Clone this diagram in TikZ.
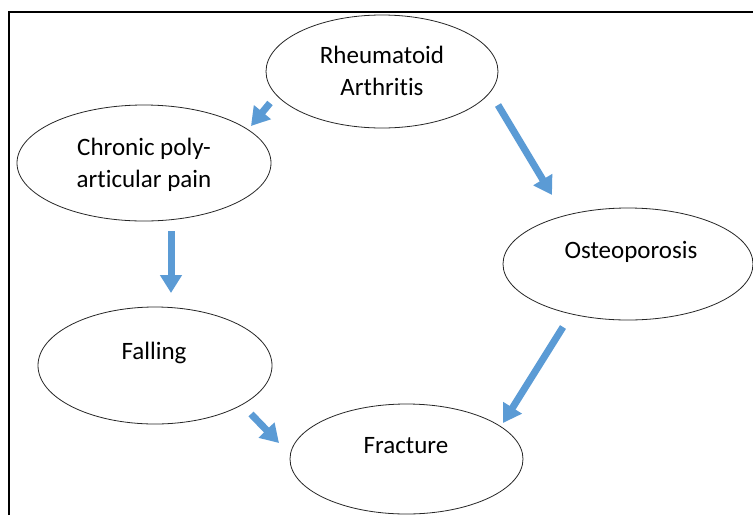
\documentclass[tikz,border=0pt]{standalone}
\usepackage{fontspec}
\setmainfont[Ligatures=NoCommon]{Carlito}
\usetikzlibrary{shapes.geometric,arrows.meta}
\definecolor{arrblue}{HTML}{5B9BD5}
\begin{document}
\begin{tikzpicture}[x=1pt,y=-1pt,
  oval/.style={draw=black!85,line width=0.8pt,ellipse,inner sep=0pt},
  lbl/.style={font=\fontsize{25}{32}\selectfont,align=center,anchor=base,inner sep=0pt},
  arr/.style={draw=arrblue,line width=7pt,-{Triangle[length=18pt,width=21pt]}}]
\useasboundingbox (0,0) rectangle (753,515);
\fill[white] (0,0) rectangle (753,515);
\draw[line width=2pt] (9,515) -- (9,12) -- (753,12);
% ellipses
\node[oval,minimum width=232pt,minimum height=113pt] (ra) at (382,71.5) {};
\node[oval,minimum width=254pt,minimum height=116pt] (cp) at (144,163) {};
\node[oval,minimum width=250pt,minimum height=112pt] (os) at (628,264) {};
\node[oval,minimum width=234pt,minimum height=117pt] (fa) at (155,365.5) {};
\node[oval,minimum width=233pt,minimum height=110pt] (fr) at (406.5,459) {};
% texts
\node[lbl] (ra-t) at (382,95) {Rheumatoid\\Arthritis};
\node[lbl] (cp-t) at (144,187) {Chronic poly-\\articular pain};
\node[lbl] (os-t) at (631,258) {Osteoporosis};
\node[lbl] (fa-t) at (154,359) {Falling};
\node[lbl] (fr-t) at (406,453) {Fracture};
% arrows
\draw[arr] ([shift={(-112,31.5)}]ra.center) -- ([shift={(107,-37)}]cp.center);
\draw[arr] ([shift={(116,33.5)}]ra.center) -- ([shift={(-76,-69)}]os.center);
\draw[arr] ([shift={(27,68)}]cp.center) -- ([shift={(16,-72.5)}]fa.center);
\draw[arr] ([shift={(-65,63)}]os.center) -- ([shift={(96.5,-36)}]fr.center);
\draw[arr] ([shift={(96,48.5)}]fa.center) -- ([shift={(-127.5,-16)}]fr.center);
\end{tikzpicture}
\end{document}
